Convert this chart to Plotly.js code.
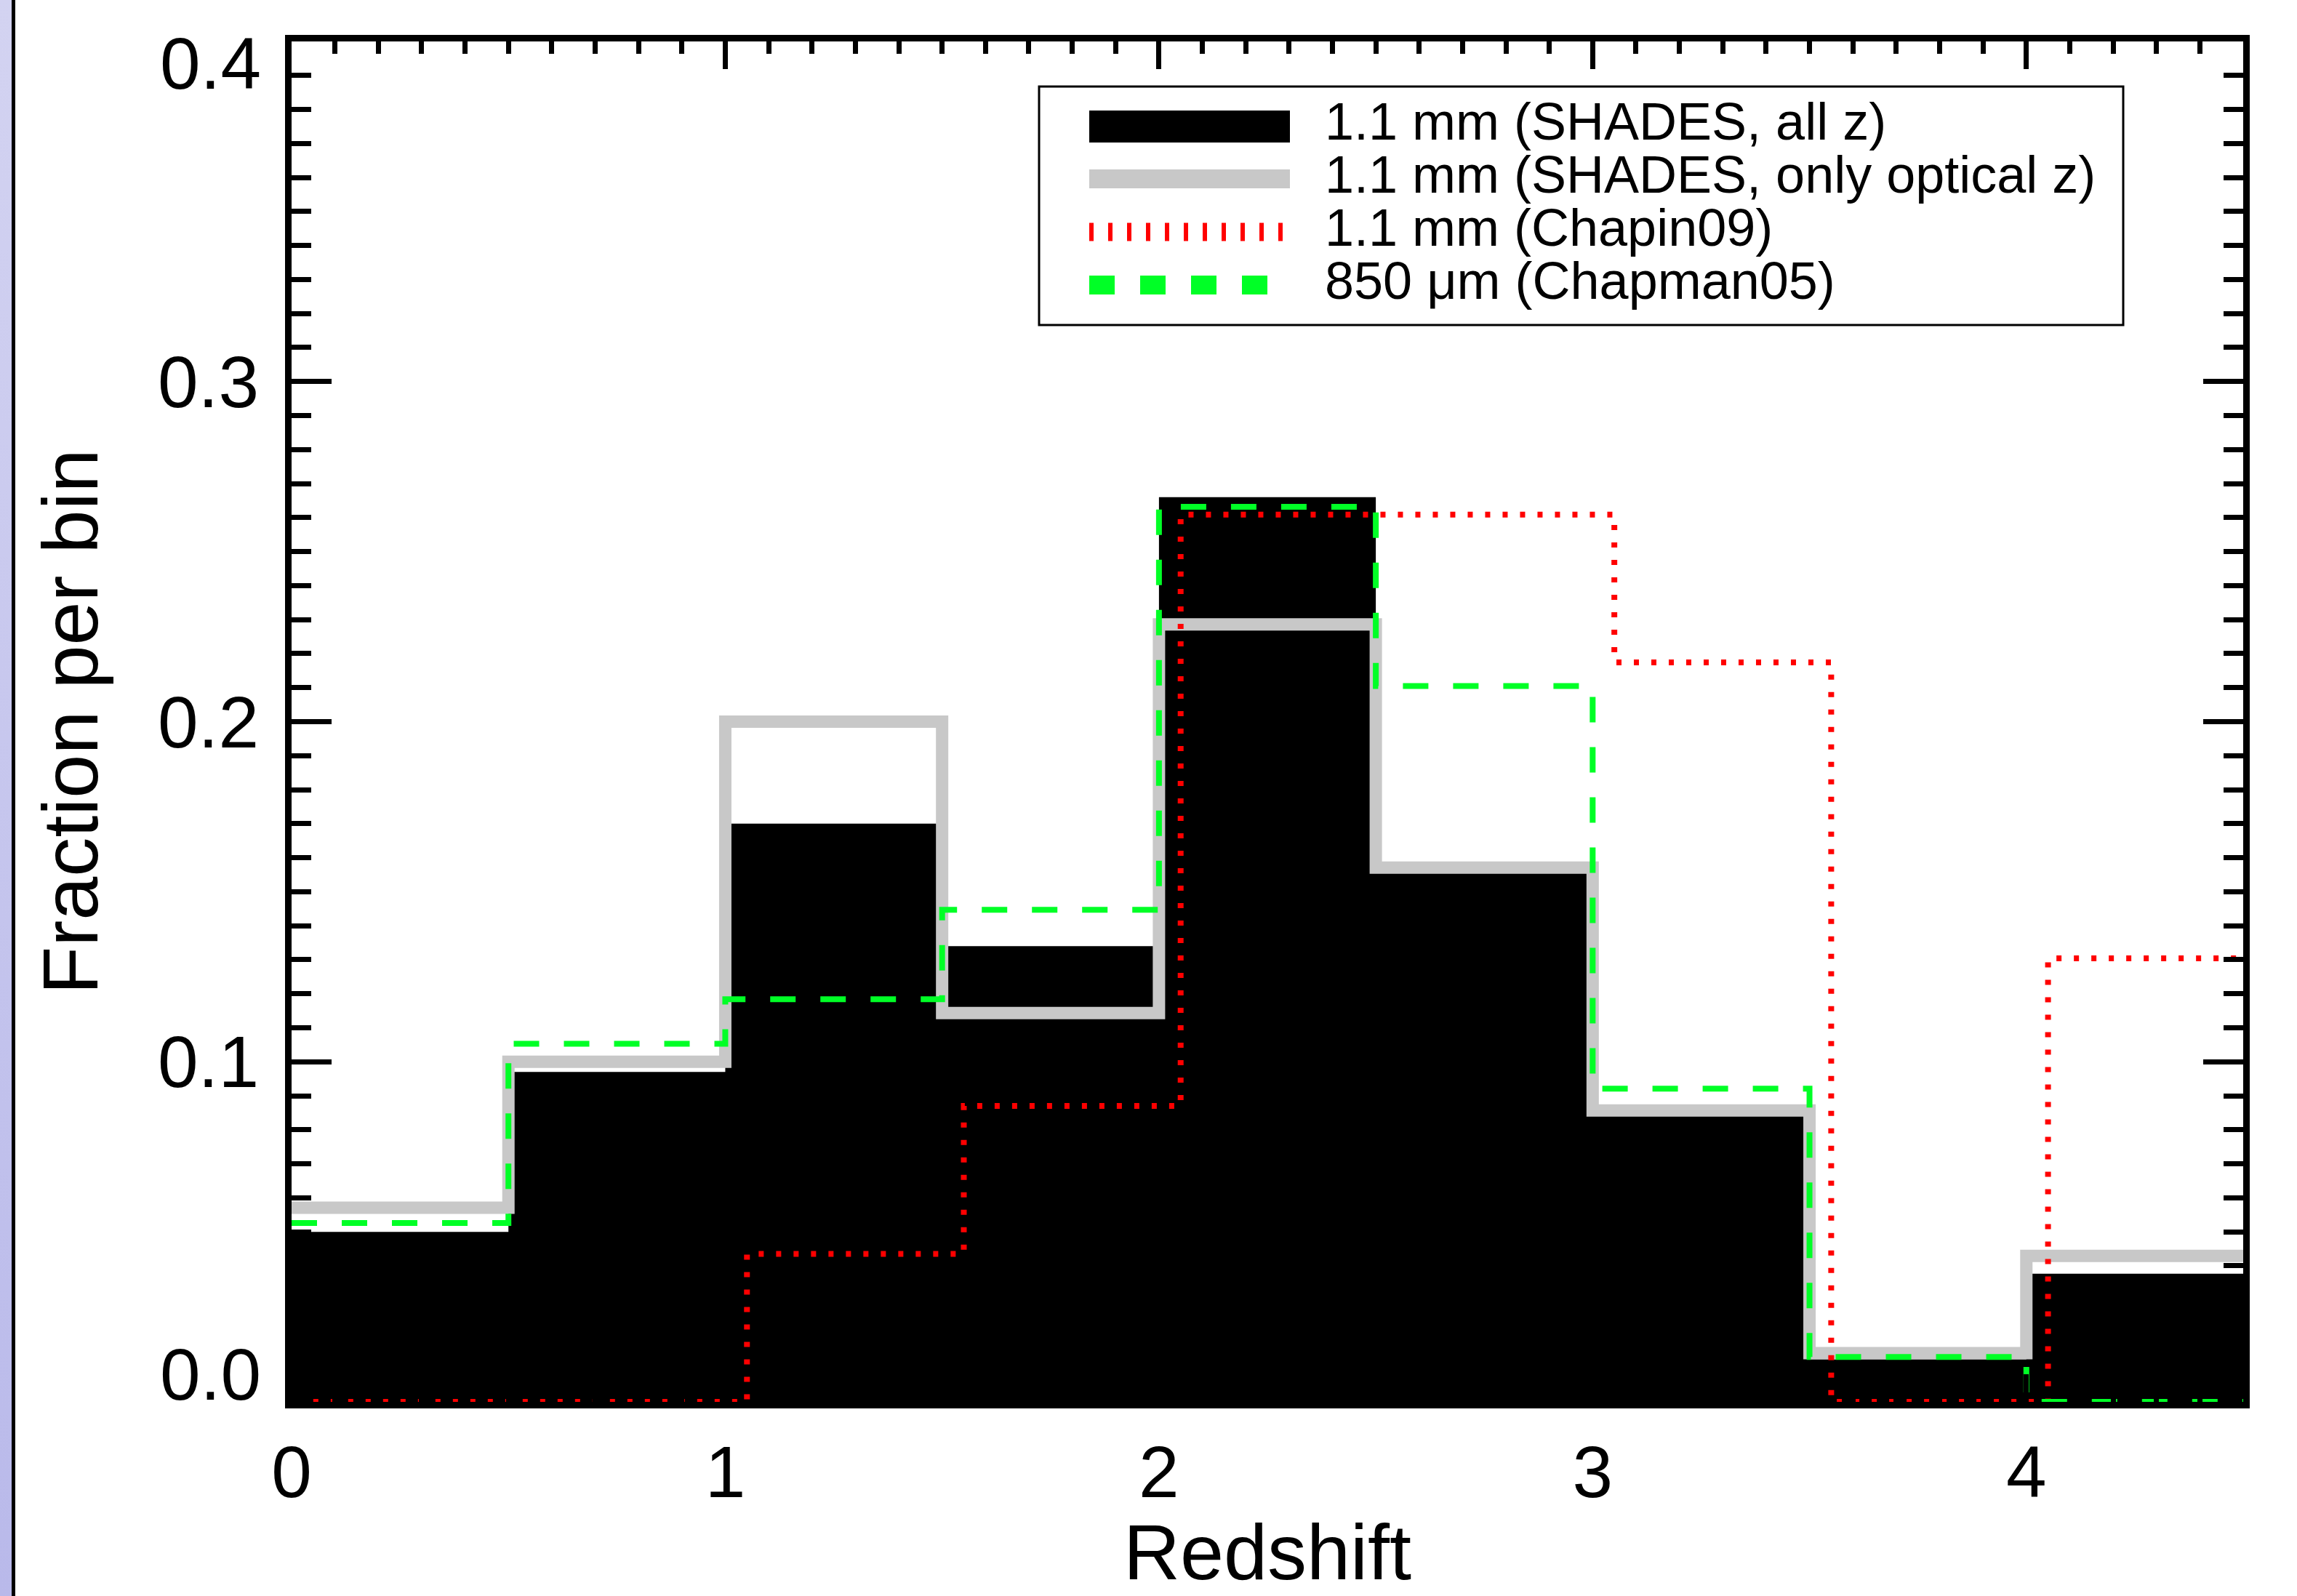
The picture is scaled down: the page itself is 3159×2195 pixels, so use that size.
<!DOCTYPE html>
<html>
<head>
<meta charset="utf-8">
<script src="https://cdn.plot.ly/plotly-3.0.1.min.js"></script>
<style>
html,body{margin:0;padding:0;background:#fff;}
#wrap{position:relative;width:3159px;height:2195px;overflow:hidden;}
#chart{position:absolute;left:0;top:0;width:3159px;height:2195px;}
#frame{position:absolute;left:0;top:0;width:16px;height:2195px;background:linear-gradient(#d3d3f1,#b9b9ea);border-right:5px solid #000;z-index:5;}
</style>
</head>
<body>
<div id="wrap"><div id="chart"></div><div id="frame"></div></div>
<script>
// ---- data ----
const binEdges = [0, 0.5, 1, 1.5, 2, 2.5, 3, 3.5, 4, 4.5];
const shadesAllZ = [0.050, 0.097, 0.170, 0.134, 0.266, 0.156, 0.085, 0.0125, 0.0377];
const shadesOpticalZ = [0.0571, 0.1000, 0.2000, 0.1143, 0.2286, 0.1571, 0.0857, 0.0143, 0.0429];
const chapin09 = [0, 0, 0.0435, 0.0870, 0.2609, 0.2609, 0.2174, 0, 0.1304];
const chapman05 = [0.0526, 0.1053, 0.1184, 0.1447, 0.2632, 0.2105, 0.0921, 0.0132, 0];
const chapinBinShift = 0.05;
const seriesNames = ['1.1 mm (SHADES, all z)', '1.1 mm (SHADES, only optical z)', '1.1 mm (Chapin09)', '850 \u03bcm (Chapman05)'];
const xTickVals = [0, 1, 2, 3, 4];
const xTickText = ['0', '1', '2', '3', '4'];
const yTickVals = [0, 0.1, 0.2, 0.3, 0.4];
const yTickText = ['0.0', '0.1', '0.2', '0.3', '0.4'];

// ---- geometry helpers (pixel -> paper) ----
const W = 3159, H = 2195, L = 401, R = 3085, T = 57, B = 1928;
const px = x => (x - L) / (R - L);
const py = y => (B - y) / (B - T);
const FONT = 'Liberation Sans, Arial, Helvetica, sans-serif';

function stepY(v) { return v.concat([v[v.length - 1]]); }

const traces = [
  { x: binEdges, y: stepY(shadesAllZ), mode: 'lines', name: seriesNames[0],
    line: { shape: 'hv', width: 0, color: '#000' }, fill: 'tozeroy', fillcolor: '#000', hoverinfo: 'skip' },
  { x: binEdges, y: stepY(shadesOpticalZ), mode: 'lines', name: seriesNames[1],
    line: { shape: 'hv', width: 17, color: '#c8c8c8' }, hoverinfo: 'skip' },
  { x: binEdges.map(e => e + chapinBinShift), y: stepY(chapin09), mode: 'lines', name: seriesNames[2],
    line: { shape: 'hv', width: 8, color: '#ff0000', dash: '7px,17px' }, hoverinfo: 'skip' },
  { x: binEdges, y: stepY(chapman05), mode: 'lines', name: seriesNames[3],
    line: { shape: 'hv', width: 8, color: '#00ff26', dash: '35px,34px' }, hoverinfo: 'skip' }
];

// ---- hand-drawn legend (as in the original IDL figure) ----
const sx0 = 1498, sx1 = 1774;
const rowY = [174, 246, 319, 392];
const textY = [167, 240, 313, 386];
const shapes = [
  { type: 'rect', xref: 'paper', yref: 'paper', x0: px(1429), x1: px(2920), y0: py(447), y1: py(119),
    line: { color: '#000', width: 3 }, fillcolor: '#fff', layer: 'above' },
  { type: 'rect', xref: 'paper', yref: 'paper', x0: px(sx0), x1: px(sx1), y0: py(196), y1: py(152),
    line: { width: 0 }, fillcolor: '#000', layer: 'above' },
  { type: 'line', xref: 'paper', yref: 'paper', x0: px(sx0), x1: px(sx1), y0: py(rowY[1]), y1: py(rowY[1]),
    line: { color: '#c8c8c8', width: 26 }, layer: 'above' },
  { type: 'line', xref: 'paper', yref: 'paper', x0: px(sx0), x1: px(sx1), y0: py(rowY[2]), y1: py(rowY[2]),
    line: { color: '#ff0000', width: 25, dash: '6px,20px' }, layer: 'above' },
  { type: 'line', xref: 'paper', yref: 'paper', x0: px(sx0), x1: px(sx1), y0: py(rowY[3]), y1: py(rowY[3]),
    line: { color: '#00ff26', width: 26, dash: '35px,35px' }, layer: 'above' }
];

const annotations = seriesNames.map((n, i) => ({
  text: n, xref: 'paper', yref: 'paper', x: px(1820), y: py(textY[i]),
  xanchor: 'left', yanchor: 'middle', showarrow: false,
  font: { family: FONT, size: 72, color: '#000' }
}));
// end tick labels of the y axis sit inside the axis span, as in the original
annotations.push({ text: yTickText[0], xref: 'paper', yref: 'y', x: 0, y: yTickVals[0], xshift: -40, yshift: 38,
  xanchor: 'right', yanchor: 'middle', showarrow: false, font: { family: FONT, size: 100, color: '#000' } });
annotations.push({ text: yTickText[4], xref: 'paper', yref: 'y', x: 0, y: yTickVals[4], xshift: -40, yshift: -30,
  xanchor: 'right', yanchor: 'middle', showarrow: false, font: { family: FONT, size: 100, color: '#000' } });

const layout = {
  width: W, height: H,
  margin: { l: L, r: W - R, t: T, b: H - B, pad: 0 },
  paper_bgcolor: '#fff', plot_bgcolor: '#fff',
  showlegend: false,
  font: { family: FONT, color: '#000' },
  xaxis: {
    range: [0, 4.5], tickmode: 'array', tickvals: xTickVals, ticktext: xTickText,
    ticks: 'inside', ticklen: 38, tickwidth: 7, tickcolor: '#000',
    showline: true, linewidth: 9, linecolor: '#000', mirror: 'allticks',
    showgrid: false, zeroline: false, tickfont: { family: FONT, size: 100, color: '#000' },
    ticklabelstandoff: 2,
    minor: { tickmode: 'linear', tick0: 0, dtick: 0.1, ticks: 'inside', ticklen: 17, tickwidth: 7, tickcolor: '#000', showgrid: false },
    title: { text: 'Redshift', font: { family: FONT, size: 108, color: '#000' }, standoff: 30 }
  },
  yaxis: {
    range: [0, 0.4], tickmode: 'array', tickvals: yTickVals, ticktext: ['', yTickText[1], yTickText[2], yTickText[3], ''],
    ticks: 'inside', ticklen: 55, tickwidth: 7, tickcolor: '#000',
    showline: true, linewidth: 9, linecolor: '#000', mirror: 'allticks',
    showgrid: false, zeroline: false, tickfont: { family: FONT, size: 100, color: '#000' },
    ticklabelstandoff: 16,
    minor: { tickmode: 'linear', tick0: 0, dtick: 0.01, ticks: 'inside', ticklen: 27, tickwidth: 7, tickcolor: '#000', showgrid: false },
    title: { text: 'Fraction per bin', font: { family: FONT, size: 108, color: '#000' }, standoff: 50 }
  },
  shapes: shapes,
  annotations: annotations
};

Plotly.newPlot('chart', traces, layout, { displayModeBar: false, staticPlot: true });
</script>
</body>
</html>
